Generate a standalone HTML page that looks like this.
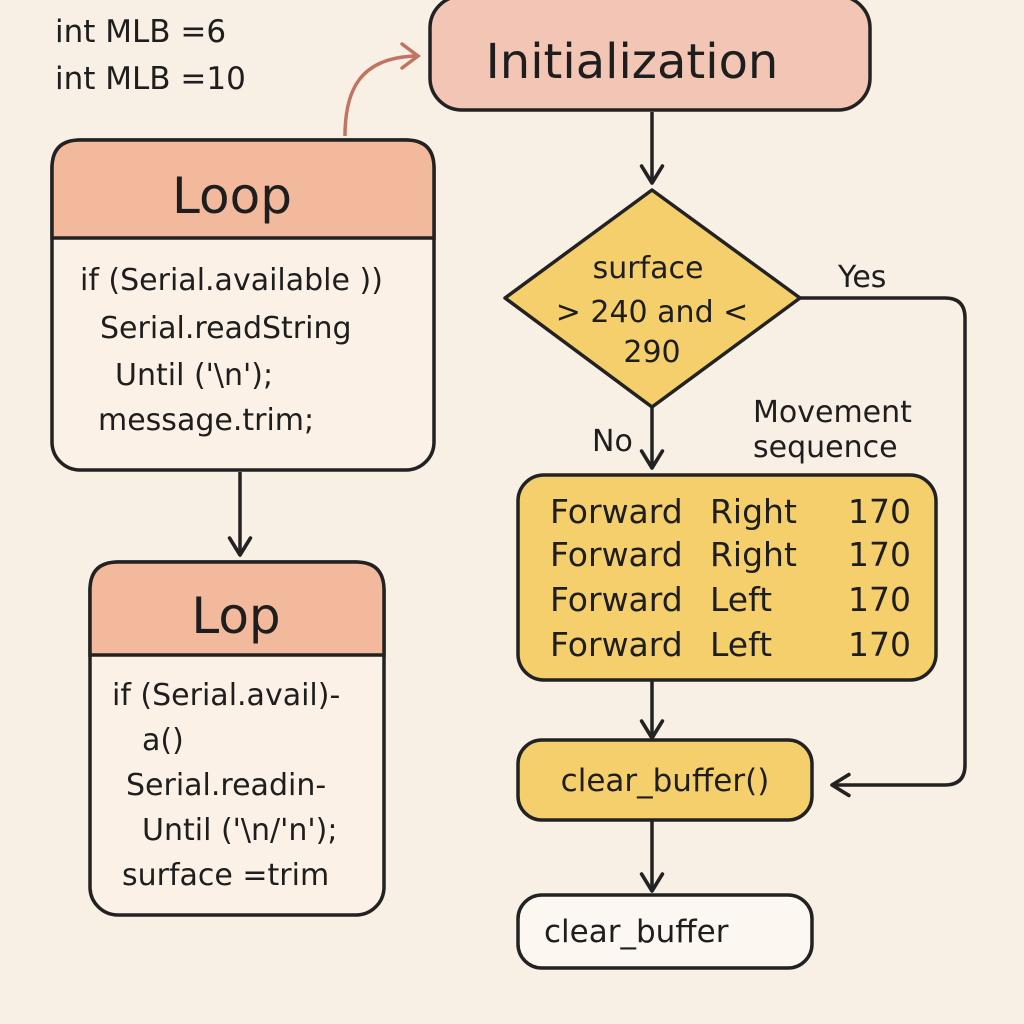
<!DOCTYPE html>
<html><head><meta charset="utf-8"><style>
html,body{margin:0;padding:0;background:#f8efe5;}
svg{display:block}
text{font-family:"DejaVu Sans","Liberation Sans",sans-serif;fill:#1e1e1e}
</style></head><body>
<svg width="1024" height="1024" viewBox="0 0 1024 1024" xmlns="http://www.w3.org/2000/svg">
<defs>
<marker id="ah" markerWidth="26" markerHeight="26" refX="8.5" refY="5" orient="auto" markerUnits="userSpaceOnUse" viewBox="0 0 10 10">
<path d="M2,1 L8.5,5 L2,9" fill="none" stroke="#222" stroke-width="1.4" stroke-linecap="round" stroke-linejoin="round"/></marker>
</defs>
<rect width="1024" height="1024" fill="#f8efe5"/>
<g font-size="31">
<text x="55" y="42">int MLB =6</text>
<text x="55" y="89">int MLB =10</text>
</g>
<rect x="430" y="-4" width="440" height="114" rx="32" fill="#f3c5b5" stroke="#222" stroke-width="3.5"/>
<text x="632" y="78" font-size="48" text-anchor="middle">Initialization</text>
<path d="M345,136 C345,90 360,58 415,56" fill="none" stroke="#c27462" stroke-width="3.5"/>
<path d="M402,44 L418,56 L402,68" fill="none" stroke="#c27462" stroke-width="3.5" stroke-linecap="round"/>
<rect x="52" y="140" width="382" height="330" rx="28" fill="#fbf1e7" stroke="#222" stroke-width="3.5"/>
<path d="M52,238 L52,168 Q52,140 80,140 L406,140 Q434,140 434,168 L434,238 Z" fill="#f3b99c" stroke="#222" stroke-width="3.5"/>
<text x="232" y="213" font-size="50" text-anchor="middle">Loop</text>
<g font-size="30">
<text x="80" y="290">if (Serial.available ))</text>
<text x="100" y="338">Serial.readString</text>
<text x="115" y="385">Until ('\n');</text>
<text x="98" y="430">message.trim;</text>
</g>
<line x1="240" y1="472" x2="240" y2="555" stroke="#222" stroke-width="3.5" marker-end="url(#ah)"/>
<rect x="90" y="562" width="294" height="353" rx="28" fill="#fbf1e7" stroke="#222" stroke-width="3.5"/>
<path d="M90,655 L90,590 Q90,562 118,562 L356,562 Q384,562 384,590 L384,655 Z" fill="#f3b99c" stroke="#222" stroke-width="3.5"/>
<text x="236" y="633" font-size="50" text-anchor="middle">Lop</text>
<g font-size="30">
<text x="112" y="705">if (Serial.avail)-</text>
<text x="142" y="750">a()</text>
<text x="126" y="795">Serial.readin-</text>
<text x="142" y="840">Until ('\n/'n');</text>
<text x="122" y="885">surface =trim</text>
</g>
<line x1="652" y1="112" x2="652" y2="183" stroke="#222" stroke-width="3.5" marker-end="url(#ah)"/>
<polygon points="652,190 800,298 652,407 505,298" fill="#f5cf6b" stroke="#222" stroke-width="3.5" stroke-linejoin="round"/>
<g font-size="30" text-anchor="middle">
<text x="648" y="278">surface</text>
<text x="652" y="322">&gt; 240 and &lt;</text>
<text x="652" y="362">290</text>
</g>
<text x="838" y="287" font-size="30">Yes</text>
<path d="M800,298 L945,298 Q965,298 965,318 L965,765 Q965,785 945,785 L832,785" fill="none" stroke="#222" stroke-width="3.5" marker-end="url(#ah)"/>
<text x="592" y="451" font-size="30">No</text>
<line x1="652" y1="407" x2="652" y2="468" stroke="#222" stroke-width="3.5" marker-end="url(#ah)"/>
<g font-size="30"><text x="753" y="422">Movement</text><text x="753" y="457">sequence</text></g>
<rect x="518" y="475" width="418" height="205" rx="26" fill="#f5cf6b" stroke="#222" stroke-width="3.5"/>
<g font-size="33">
<text x="550" y="523">Forward</text><text x="710" y="523">Right</text><text x="848" y="523">170</text>
<text x="550" y="566">Forward</text><text x="710" y="566">Right</text><text x="848" y="566">170</text>
<text x="550" y="611">Forward</text><text x="710" y="611">Left</text><text x="848" y="611">170</text>
<text x="550" y="656">Forward</text><text x="710" y="656">Left</text><text x="848" y="656">170</text>
</g>
<line x1="652" y1="680" x2="652" y2="738" stroke="#222" stroke-width="3.5" marker-end="url(#ah)"/>
<rect x="518" y="740" width="294" height="80" rx="24" fill="#f5cf6b" stroke="#222" stroke-width="3.5"/>
<text x="665" y="791" font-size="31" text-anchor="middle">clear_buffer()</text>
<line x1="652" y1="820" x2="652" y2="891" stroke="#222" stroke-width="3.5" marker-end="url(#ah)"/>
<rect x="518" y="895" width="294" height="73" rx="24" fill="#fdf7f1" stroke="#222" stroke-width="3.5"/>
<text x="544" y="942" font-size="31">clear_buffer</text>
</svg>
</body></html>
